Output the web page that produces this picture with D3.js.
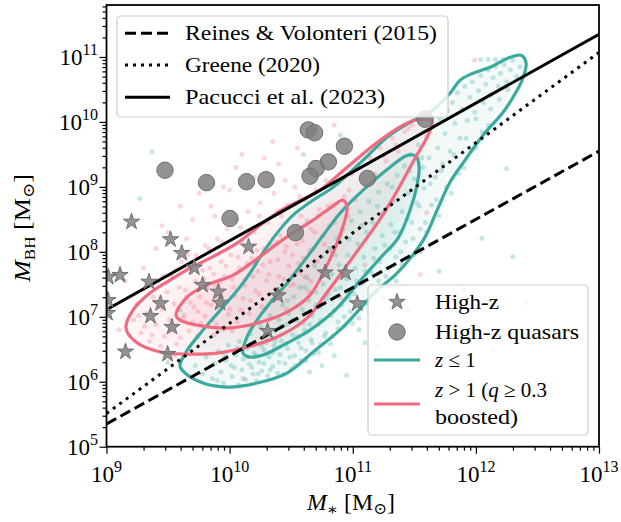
<!DOCTYPE html>
<html><head><meta charset="utf-8">
<script src="https://cdn.jsdelivr.net/npm/d3@7"></script>
<style>
html,body{margin:0;padding:0;background:#fff;}
svg text{font-family:"Liberation Serif","DejaVu Serif",serif;fill:#000;}
</style></head>
<body><svg id="c" width="621" height="522"></svg>
<script>
// ---------- DATA (log10 values) ----------
const xTickExps = [9, 10, 11, 12, 13];
const yTickExps = [5, 6, 7, 8, 9, 10, 11];

// reference relations: [log M* at left, log MBH at left, log M* at right, log MBH at right]
const reinesLine  = [9, 5.35, 13, 9.55];
const greeneLine  = [9, 5.51, 13, 11.07];
const pacucciLine = [9, 7.11, 13, 11.35];

const highZStars = [[9.203,8.462],[9.520,8.191],[9.611,7.980],[9.713,7.757],[10.154,8.077],[9.110,7.642],[9.015,7.611],[9.345,7.538],[9.780,7.488],[9.908,7.385],[9.922,7.215],[9.439,7.206],[9.357,7.011],[9.532,6.842],[9.154,6.462],[9.496,6.426],[9.012,7.257],[9.008,7.057],[10.308,6.780],[10.393,7.326],[10.775,7.680],[10.942,7.677],[11.037,7.206]];

const highZQuasars = [[9.475,9.257],[9.812,9.065],[10.137,9.080],[10.296,9.111],[10.003,8.514],[10.534,8.295],[10.639,9.877],[10.690,9.834],[10.932,9.626],[10.802,9.385],[10.702,9.283],[10.653,9.165],[11.119,9.129],[11.587,10.042]];

const lowZContourOuter = [[9.597,6.242],[9.646,6.457],[9.784,6.795],[9.946,7.149],[10.084,7.457],[10.182,7.718],[10.247,7.918],[10.385,8.288],[10.515,8.565],[10.678,8.795],[10.840,8.995],[11.084,9.411],[11.279,9.765],[11.465,9.995],[11.628,10.149],[11.790,10.442],[11.872,10.642],[11.977,10.749],[12.115,10.842],[12.278,10.995],[12.367,11.026],[12.408,10.903],[12.375,10.642],[12.302,10.380],[12.221,10.149],[12.058,9.795],[11.912,9.411],[11.790,9.072],[11.685,8.641],[11.587,8.226],[11.481,7.934],[11.344,7.641],[11.198,7.411],[10.921,6.842],[10.678,6.457],[10.466,6.134],[10.223,5.980],[9.979,5.918],[9.784,5.980],[9.638,6.134]];
const lowZContourInner = [[10.109,6.441],[10.141,6.688],[10.223,6.949],[10.328,7.211],[10.466,7.518],[10.548,7.718],[10.653,7.980],[10.791,8.334],[10.897,8.595],[11.084,8.949],[11.303,9.303],[11.449,9.488],[11.514,9.472],[11.539,9.303],[11.522,9.026],[11.465,8.641],[11.368,8.211],[11.222,7.903],[11.043,7.518],[10.873,7.134],[10.653,6.795],[10.466,6.595],[10.271,6.411],[10.166,6.380]];
const highZContourOuter = [[9.158,6.826],[9.215,7.103],[9.353,7.365],[9.516,7.565],[9.678,7.749],[9.841,7.903],[10.060,8.134],[10.247,8.411],[10.434,8.657],[10.596,8.811],[10.734,8.949],[10.954,9.303],[11.222,9.718],[11.440,9.980],[11.563,10.042],[11.644,10.011],[11.612,9.795],[11.506,9.442],[11.409,9.103],[11.303,8.749],[11.206,8.457],[11.084,8.134],[10.937,7.749],[10.775,7.334],[10.629,6.980],[10.385,6.688],[10.141,6.534],[9.898,6.441],[9.654,6.426],[9.435,6.457],[9.240,6.611]];
const highZContourInner = [[9.565,7.026],[9.654,7.303],[9.816,7.488],[10.028,7.641],[10.231,7.903],[10.450,8.211],[10.653,8.457],[10.816,8.672],[10.921,8.795],[10.954,8.688],[10.897,8.257],[10.791,7.795],[10.653,7.334],[10.466,7.072],[10.223,6.903],[9.979,6.826],[9.735,6.872],[9.597,6.949]];

const lowZPoints = [[9.72,6.25],[9.78,6.12],[9.81,6.38],[9.86,6.05],[9.88,6.28],[9.91,6.47],[9.93,6.15],[9.95,5.98],[9.97,6.33],[9.99,6.56],
[10.02,6.08],[10.04,6.22],[10.05,6.41],[10.07,5.95],[10.08,6.62],[10.10,6.18],[10.11,6.35],[10.13,6.03],[10.14,6.51],[10.16,6.27],[10.17,6.74],[10.19,6.12],[10.20,6.44],
[10.21,6.58],[10.22,6.01],[10.24,6.30],[10.25,6.86],[10.26,6.17],[10.28,6.49],[10.29,6.68],[10.31,6.09],[10.32,6.38],[10.33,7.02],[10.35,6.24],[10.36,6.55],[10.37,6.79],[10.39,6.13],[10.40,6.95],
[10.41,6.42],[10.42,6.63],[10.43,7.18],[10.45,6.28],[10.46,6.88],[10.47,6.51],[10.48,7.05],[10.50,6.20],[10.51,6.72],[10.52,7.31],[10.53,6.40],[10.55,6.95],[10.56,6.60],[10.57,7.45],[10.58,6.33],[10.59,7.12],
[10.61,6.80],[10.62,6.48],[10.63,7.60],[10.64,7.25],[10.66,6.65],[10.67,7.02],[10.68,6.43],[10.69,7.78],[10.70,7.38],[10.72,6.88],[10.73,7.15],[10.74,6.58],[10.75,7.92],[10.76,7.50],[10.78,6.75],[10.79,7.28],
[10.81,8.05],[10.82,7.02],[10.83,7.65],[10.84,6.70],[10.86,7.42],[10.87,8.20],[10.88,6.92],[10.89,7.80],[10.91,7.18],[10.92,8.35],[10.93,6.85],[10.95,7.58],[10.96,7.95],[10.98,7.08],[10.99,8.48],
[11.01,7.35],[11.02,7.75],[11.04,8.12],[11.05,6.98],[11.06,8.62],[11.08,7.52],[11.09,7.92],[11.11,8.30],[11.12,7.20],[11.13,8.78],[11.15,7.68],[11.16,8.45],[11.18,8.05],[11.19,7.40],
[11.21,8.92],[11.22,7.85],[11.24,8.25],[11.25,8.60],[11.27,7.62],[11.28,9.05],[11.30,8.05],[11.31,8.42],[11.33,8.78],[11.35,7.92],[11.36,9.18],[11.38,8.30],
[11.40,8.62],[11.42,9.32],[11.43,8.15],[11.45,8.90],[11.47,9.50],[11.48,8.45],[11.50,9.12],[11.52,8.75],[11.53,9.65],[11.55,8.35],[11.57,9.30],[11.58,8.98],
[11.60,9.78],[11.62,9.45],[11.64,8.72],[11.65,9.92],[11.67,9.15],[11.69,9.60],[11.71,10.05],[11.73,9.35],[11.75,9.82],[11.77,10.18],[11.79,9.55],
[11.81,10.30],[11.83,9.98],[11.85,10.45],[11.87,9.75],[11.89,10.20],[11.91,10.55],[11.93,10.02],[11.95,10.38],[11.97,10.62],[11.99,10.15],
[12.02,10.48],[12.04,10.72],[12.06,10.30],[12.08,10.58],[12.10,10.80],[12.12,10.42],[12.14,10.68],[12.16,10.85],[12.18,10.55],[12.20,10.75],[12.23,10.88],[12.25,10.62],[12.28,10.80],[12.30,10.95],[12.33,10.70],[12.36,10.85],
[12.04,10.96],[12.10,10.96],[12.16,10.96],[12.22,10.96],
[10.95,6.10],[11.90,7.41],[12.14,6.49],[12.41,7.21],[12.25,9.28],[12.05,8.21],[12.30,7.92],[11.70,7.70],[11.45,7.10],[11.20,6.55],[9.37,9.54],[9.27,8.82],[9.48,10.46],[10.60,9.50],[10.90,9.80],[11.25,10.30],[9.60,7.10],[9.50,6.30],
[11.05,6.80],[11.15,7.05],[11.25,7.30],[11.35,7.55],[11.10,6.60],[11.30,7.15],[11.40,7.80],[10.85,6.40],[10.75,6.25],[10.65,6.15],[11.50,7.95],[11.60,8.30],[11.70,8.55],[11.80,8.90],[11.90,9.30],[12.00,9.60],[12.10,9.95],[11.55,8.00],
[10.18,6.22],[10.21,6.40],[10.23,6.12],[10.26,6.55],[10.28,6.28],[10.30,6.72],[10.33,6.18],[10.35,6.45],[10.37,6.62],[10.40,6.30],[10.42,6.85],[10.44,6.12],[10.46,6.58],[10.49,6.38],[10.51,6.95],[10.53,6.25],[10.55,6.70],[10.58,6.52],[10.60,7.05],[10.62,6.32],[10.65,6.88],[10.67,6.60],[10.70,7.18],[10.72,6.45],[10.74,6.95],[10.77,6.70],[10.80,7.35],[10.82,6.58],[10.85,7.10],[10.88,6.82],[10.90,7.45],[10.93,7.00],[10.97,7.30],[11.00,6.90],[11.03,7.55],[11.07,7.15],[11.10,7.70],[11.14,7.35],[11.17,7.90],[11.21,7.55],[11.26,8.10],[11.29,7.75],[11.34,8.30],[11.39,8.00],[11.44,8.50],[11.49,8.20],[11.54,8.70],[11.59,8.45],[11.63,9.05],[11.68,8.80],[11.72,9.25],[11.76,9.00],[11.82,9.50],[11.86,9.20],[11.92,9.75],[11.96,9.55],[12.00,10.05],[12.05,9.85],[12.12,10.20],[12.19,10.35],[12.26,10.50],
[9.90,6.02],[9.96,6.40],[10.01,6.25],[10.06,6.52],[10.11,6.05],[10.15,6.38],[10.47,7.25],[10.61,7.45],[10.76,7.70],[10.86,7.95],[10.97,8.20],[11.07,8.40],[11.20,8.70],[11.32,9.00],[11.46,9.25],[11.56,9.45]];

const highZPoints = [[9.22,6.95],[9.25,7.20],[9.28,6.75],[9.30,7.42],[9.33,7.05],[9.35,6.62],[9.38,7.30],[9.40,6.88],[9.42,7.55],[9.45,7.12],[9.47,6.70],[9.49,7.38],
[9.51,6.95],[9.53,7.62],[9.55,7.20],[9.57,6.58],[9.59,7.45],[9.61,7.85],[9.63,7.02],[9.65,7.30],[9.67,6.78],[9.69,7.68],[9.71,7.15],[9.73,7.95],[9.75,7.42],[9.77,6.90],[9.79,7.58],
[9.81,7.22],[9.83,8.05],[9.84,7.75],[9.86,6.95],[9.88,7.48],[9.90,8.20],[9.91,7.30],[9.93,7.85],[9.95,6.80],[9.96,7.62],[9.98,8.35],[10.00,7.12],[10.01,7.95],[10.03,7.45],[10.05,8.50],[10.06,6.92],[10.08,7.75],
[10.10,8.15],[10.11,7.28],[10.13,7.58],[10.15,8.62],[10.16,7.05],[10.18,7.90],[10.20,8.30],[10.21,7.40],[10.23,7.70],[10.25,8.75],[10.26,7.15],[10.28,8.05],[10.30,7.55],[10.31,8.45],[10.33,7.85],[10.35,7.25],[10.36,8.90],[10.38,8.15],
[10.40,7.62],[10.42,8.55],[10.43,7.38],[10.45,8.00],[10.47,8.72],[10.48,7.78],[10.50,8.30],[10.52,7.50],[10.53,9.00],[10.55,8.12],[10.57,7.68],[10.58,8.55],[10.60,7.90],[10.62,8.80],[10.64,7.40],[10.66,8.35],[10.68,8.05],
[10.70,8.95],[10.72,8.55],[10.74,7.70],[10.76,8.25],[10.78,9.10],[10.80,8.70],[10.83,8.00],[10.85,8.45],[10.88,9.05],[10.90,8.25],[10.93,8.85],[10.96,8.55],[10.99,9.20],
[11.02,8.80],[11.06,9.30],[11.10,9.05],[11.14,9.45],[11.18,9.20],[11.22,9.60],[11.27,9.40],[11.32,9.75],[11.37,9.55],[11.42,9.85],[11.48,9.95],[11.55,10.00],
[9.50,8.30],[9.70,8.50],[9.85,8.70],[10.00,8.95],[10.20,9.15],[10.40,9.35],[10.10,9.50],[10.55,9.60],[10.75,9.40],[9.40,8.05],[9.65,8.20],[9.30,7.75],[9.15,7.55],[9.10,6.80],[9.55,6.40],[10.30,6.60],[10.60,6.90],[10.90,7.30],[11.10,7.80],[11.40,7.20],[11.60,8.60],[11.99,10.95],[10.35,9.70],[10.85,9.95],[9.95,9.00],[11.20,6.90],[11.55,7.65],
[9.58,7.12],[9.62,6.98],[9.64,7.41],[9.68,7.22],[9.70,6.92],[9.72,7.55],[9.74,7.08],[9.76,7.31],[9.78,7.72],[9.80,7.01],[9.82,7.44],[9.85,7.18],[9.87,7.66],[9.89,6.88],[9.92,7.52],[9.94,7.25],[9.97,7.78],[9.99,7.04],[10.02,7.58],[10.04,7.32],[10.07,7.92],[10.09,7.11],[10.12,7.48],[10.14,7.82],[10.17,7.25],[10.19,7.62],[10.22,8.02],[10.24,7.35],[10.27,7.80],[10.29,7.12],[10.32,7.65],[10.34,8.10],[10.37,7.42],[10.39,7.88],[10.41,8.25],[10.44,7.58],[10.46,8.08],[10.49,7.48],[10.51,7.95],[10.54,8.38],[10.56,7.82],[10.59,8.18],[10.61,7.62],[10.63,8.48],[10.65,8.02],[10.69,8.30],[10.71,7.85],[10.73,8.65],[10.77,8.12],[10.81,8.40],
[9.26,7.02],[9.31,6.85],[9.34,7.48],[9.37,6.72],[9.41,7.22],[9.44,6.55],[9.46,7.62],[9.52,6.78],[9.56,7.72],[9.60,6.68],[9.66,7.95],[9.74,6.70],[9.80,8.10],[9.87,6.72],[9.94,8.15],[10.02,6.78],[10.09,8.38],[10.17,6.85],[10.24,8.55],[10.32,6.95],[10.39,8.62],[10.46,7.12],[10.57,8.85],[10.66,7.55],[10.84,8.72],[10.97,8.95],[11.08,9.12],[11.25,9.48],[11.35,9.65],[11.45,9.90],
[9.60,8.70],[9.88,8.55],[10.15,9.00],[10.45,9.10],[10.65,9.25],[10.95,9.55],[9.45,8.40],[9.75,8.90],[10.05,9.30],[10.28,9.45]];

const legendLineLabels = ["Reines & Volonteri (2015)", "Greene (2020)", "Pacucci et al. (2023)"];

// ---------- STYLE ----------
const TEAL = "#3aaa9e", PINK = "#f06a80", GREY = "#808080";
const L = 106.5, R = 599, T = 5, B = 446.7;

const svg = d3.select("#c");
const x = d3.scaleLog().domain([1e9, 1e13]).range([L, R]);
const y = d3.scaleLog().domain([1e5, Math.pow(10, 11.8)]).range([B, T]);
const px = v => x(Math.pow(10, v));
const py = v => y(Math.pow(10, v));

const defs = svg.append("defs");
defs.append("clipPath").attr("id", "clip")
  .append("rect").attr("x", L).attr("y", T).attr("width", R - L).attr("height", B - T);
defs.append("filter").attr("id", "blur").attr("x", "-20%").attr("y", "-20%").attr("width", "140%").attr("height", "140%")
  .append("feGaussianBlur").attr("stdDeviation", 7);
const plot = svg.append("g").attr("clip-path", "url(#clip)");

const cline = d3.line().x(d => px(d[0])).y(d => py(d[1])).curve(d3.curveCatmullRomClosed.alpha(0.5));

// density haze underlying the point clouds (built from the contour levels)
const haze = plot.append("g").attr("filter", "url(#blur)");
[[lowZContourOuter, TEAL, 0.07], [lowZContourInner, TEAL, 0.12], [highZContourOuter, PINK, 0.09], [highZContourInner, PINK, 0.13]].forEach(([c, col, op]) => {
  haze.append("path").attr("d", cline(c)).attr("fill", col).attr("fill-opacity", op);
});

// scatter
plot.append("g").selectAll("circle").data(lowZPoints).join("circle")
  .attr("cx", d => px(d[0])).attr("cy", d => py(d[1])).attr("r", 2.5)
  .attr("fill", TEAL).attr("fill-opacity", 0.28);
plot.append("g").selectAll("circle").data(highZPoints).join("circle")
  .attr("cx", d => px(d[0])).attr("cy", d => py(d[1])).attr("r", 2.5)
  .attr("fill", PINK).attr("fill-opacity", 0.28);

// contours
[[lowZContourOuter, TEAL], [lowZContourInner, TEAL], [highZContourOuter, PINK], [highZContourInner, PINK]].forEach(([c, col]) => {
  plot.append("path").attr("d", cline(c)).attr("fill", "none").attr("stroke", col).attr("stroke-width", 3.2);
});

// relations
const rels = [[reinesLine, "11,5"], [greeneLine, "3,5"], [pacucciLine, null]];
rels.forEach(([r, dash]) => {
  const p = plot.append("line").attr("x1", px(r[0])).attr("y1", py(r[1])).attr("x2", px(r[2])).attr("y2", py(r[3]))
    .attr("stroke", "#000").attr("stroke-width", 3);
  if (dash) p.attr("stroke-dasharray", dash);
});

// markers
const star = d3.symbol().type(d3.symbolStar).size(82);
plot.append("g").selectAll("path").data(highZStars).join("path")
  .attr("d", star).attr("transform", d => `translate(${px(d[0])},${py(d[1])})`)
  .attr("fill", GREY).attr("fill-opacity", 0.85).attr("stroke", "#6e6e6e").attr("stroke-width", 1);
plot.append("g").selectAll("circle").data(highZQuasars).join("circle")
  .attr("cx", d => px(d[0])).attr("cy", d => py(d[1])).attr("r", 8.2)
  .attr("fill", GREY).attr("fill-opacity", 0.85).attr("stroke", "#6e6e6e").attr("stroke-width", 1);

// axes
const xMinor = [], yMinor = [];
for (let e = 9; e < 13; e++) for (let k = 2; k <= 9; k++) xMinor.push(k * Math.pow(10, e));
for (let e = 5; e < 12; e++) for (let k = 2; k <= 9; k++) { const v = k * Math.pow(10, e); if (v <= Math.pow(10, 11.8)) yMinor.push(v); }
const xMaj = xTickExps.map(e => Math.pow(10, e)), yMaj = yTickExps.map(e => Math.pow(10, e));

function styleAxis(g) { g.select(".domain").remove(); g.selectAll("line").attr("stroke", "#000").attr("stroke-width", 1.2); }
svg.append("g").attr("transform", `translate(0,${B})`).call(d3.axisBottom(x).tickValues(xMaj).tickSize(7).tickFormat("")).call(styleAxis);
svg.append("g").attr("transform", `translate(0,${B})`).call(d3.axisBottom(x).tickValues(xMinor).tickSize(4).tickFormat("")).call(styleAxis);
svg.append("g").attr("transform", `translate(${L},0)`).call(d3.axisLeft(y).tickValues(yMaj).tickSize(7).tickFormat("")).call(styleAxis);
svg.append("g").attr("transform", `translate(${L},0)`).call(d3.axisLeft(y).tickValues(yMinor).tickSize(4).tickFormat("")).call(styleAxis);
svg.append("rect").attr("x", L).attr("y", T).attr("width", R - L).attr("height", B - T)
  .attr("fill", "none").attr("stroke", "#000").attr("stroke-width", 1.8);

// tick labels
const TFS = 23, SFS = 16;
xTickExps.forEach(e => {
  const t = svg.append("text").attr("x", x(Math.pow(10, e))).attr("y", 482).attr("text-anchor", "middle").attr("font-size", TFS);
  t.append("tspan").text("10");
  t.append("tspan").attr("dy", -10).attr("font-size", SFS).text(e);
});
yTickExps.forEach(e => {
  const t = svg.append("text").attr("x", 98).attr("y", y(Math.pow(10, e)) + 8).attr("text-anchor", "end").attr("font-size", TFS);
  t.append("tspan").text("10");
  t.append("tspan").attr("dy", -10).attr("font-size", SFS).text(e);
});

// axis labels
const FS = 22;
const xl = svg.append("text").attr("x", 351).attr("y", 510).attr("text-anchor", "middle").attr("font-size", 23)
  .attr("textLength", 88).attr("lengthAdjust", "spacingAndGlyphs");
xl.append("tspan").attr("font-style", "italic").text("M");
xl.append("tspan").attr("dy", 5).attr("font-size", 16).text("∗");
xl.append("tspan").attr("dy", -5).text(" [M");
xl.append("tspan").attr("dy", 4).attr("font-size", 16).attr("font-family", "DejaVu Serif").text("⊙");
xl.append("tspan").attr("dy", -4).text("]");

const yl = svg.append("text").attr("transform", "translate(30,228) rotate(-90)").attr("text-anchor", "middle").attr("font-size", 23)
  .attr("textLength", 108).attr("lengthAdjust", "spacingAndGlyphs");
yl.append("tspan").attr("font-style", "italic").text("M");
yl.append("tspan").attr("dy", 5).attr("font-size", 15).text("BH");
yl.append("tspan").attr("dy", -5).text(" [M");
yl.append("tspan").attr("dy", 4).attr("font-size", 16).attr("font-family", "DejaVu Serif").text("⊙");
yl.append("tspan").attr("dy", -4).text("]");

// legend 1
svg.append("rect").attr("x", 117).attr("y", 16).attr("width", 331).attr("height", 101).attr("rx", 4)
  .attr("fill", "#fff").attr("fill-opacity", 0.8).attr("stroke", "#cccccc").attr("stroke-width", 1.2);
const ly1 = [33.3, 65, 97.3];
const lw1 = [252, 135, 200];
rels.forEach(([r, dash], i) => {
  const l = svg.append("line").attr("x1", 125).attr("x2", 170).attr("y1", ly1[i]).attr("y2", ly1[i]).attr("stroke", "#000").attr("stroke-width", 3);
  if (dash) l.attr("stroke-dasharray", dash);
  svg.append("text").attr("x", 185).attr("y", ly1[i] + 7).attr("font-size", FS)
    .attr("textLength", lw1[i]).attr("lengthAdjust", "spacingAndGlyphs").text(legendLineLabels[i]);
});

// legend 2
svg.append("rect").attr("x", 368).attr("y", 285).attr("width", 220).attr("height", 150).attr("rx", 4)
  .attr("fill", "#fff").attr("fill-opacity", 0.8).attr("stroke", "#cccccc").attr("stroke-width", 1.2);
svg.append("path").attr("d", star).attr("transform", "translate(397,302)").attr("fill", GREY).attr("fill-opacity", 0.85).attr("stroke", "#6e6e6e");
svg.append("circle").attr("cx", 397).attr("cy", 332).attr("r", 8.2).attr("fill", GREY).attr("fill-opacity", 0.85).attr("stroke", "#6e6e6e");
svg.append("line").attr("x1", 374).attr("x2", 420).attr("y1", 360).attr("y2", 360).attr("stroke", TEAL).attr("stroke-width", 3.2);
svg.append("line").attr("x1", 374).attr("x2", 420).attr("y1", 404).attr("y2", 404).attr("stroke", PINK).attr("stroke-width", 3.2);
function ltext(yy, w, fs) {
  return svg.append("text").attr("x", 435).attr("y", yy).attr("font-size", fs || FS)
    .attr("textLength", w).attr("lengthAdjust", "spacingAndGlyphs");
}
ltext(309, 64).text("High-z");
ltext(339, 144).text("High-z quasars");
const t3 = svg.append("text").attr("x", 435).attr("y", 367).attr("font-size", 21);
t3.append("tspan").attr("font-style", "italic").text("z");
t3.append("tspan").text(" ≤ 1");
const t4 = svg.append("text").attr("x", 435).attr("y", 397).attr("font-size", 21);
t4.append("tspan").attr("font-style", "italic").text("z");
t4.append("tspan").text(" > 1 (");
t4.append("tspan").attr("font-style", "italic").text("q");
t4.append("tspan").text(" ≥ 0.3");
ltext(424, 83, 21).text("boosted)");
</script></body></html>
